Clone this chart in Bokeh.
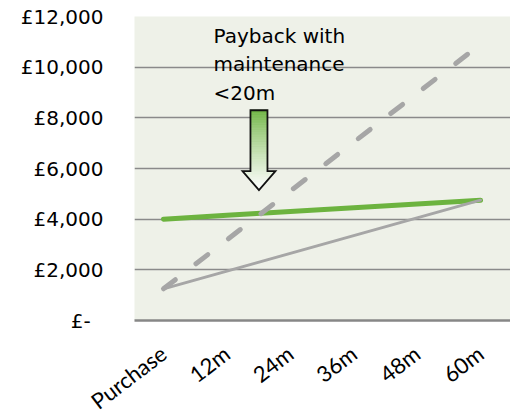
from bokeh.plotting import figure
from bokeh.models import Range1d, FixedTicker, ColumnDataSource
from bokeh.core.properties import value
from bokeh.embed import file_html
from bokeh.resources import INLINE

# ---- data ----
categories = ["Purchase", "12m", "24m", "36m", "48m", "60m"]
cost_with_maintenance = [4000, 4150, 4300, 4450, 4600, 4750]   # green
cost_baseline = [1250, 1950, 2650, 3350, 4050, 4750]           # grey solid
cost_dashed = [1250, 3180, 5110, 7040, 8970, 10900]            # grey dashed
y_ticks = [0, 2000, 4000, 6000, 8000, 10000, 12000]
y_tick_labels = ["£-\u00a0\u00a0", "£2,000", "£4,000", "£6,000", "£8,000", "£10,000", "£12,000"]
note_lines = ["Payback with", "maintenance", "<20m"]

xs = list(range(len(categories)))

p = figure(frame_width=376, frame_height=304, output_backend="svg", toolbar_location=None,
           x_range=Range1d(-0.457, 5.473), y_range=Range1d(0, 12000),
           min_border_left=134, min_border_right=0, min_border_top=16,
           min_border_bottom=90)
p.background_fill_color = "#EEF1E8"
p.border_fill_color = "white"
p.outline_line_color = None

# axes
p.xaxis.ticker = FixedTicker(ticks=xs)
p.xaxis.major_label_overrides = {i: c for i, c in zip(xs, categories)}
p.xaxis.major_label_orientation = 0.65
p.xaxis.major_label_text_font = "Lato"
p.xaxis.major_label_text_font_size = "22px"
p.xaxis.major_label_text_color = "black"
p.xaxis.major_label_standoff = 30
p.xaxis.major_tick_out = 0
p.xaxis.major_tick_in = 0
p.xaxis.axis_line_color = "#878787"
p.xaxis.axis_line_width = 2.5
p.xaxis.major_tick_line_color = None
p.xaxis.minor_tick_line_color = None

p.yaxis.ticker = FixedTicker(ticks=y_ticks)
p.yaxis.major_label_overrides = {t: l for t, l in zip(y_ticks, y_tick_labels)}
p.yaxis.major_label_text_font = "DejaVu Sans"
p.yaxis.major_label_text_font_size = "20px"
p.yaxis.major_label_text_color = "black"
p.yaxis.major_label_standoff = 31
p.yaxis.major_tick_out = 0
p.yaxis.major_tick_in = 0
p.yaxis.axis_line_color = None
p.yaxis.major_tick_line_color = None
p.yaxis.minor_tick_line_color = None

p.xgrid.grid_line_color = None
p.ygrid.grid_line_color = "#8A8A8A"
p.ygrid.grid_line_width = 1.5

# series
p.line(xs, cost_with_maintenance, line_color="#6CB33F", line_width=5, line_cap="round")
p.line(xs, cost_baseline, line_color="#A6A6A6", line_width=3, line_cap="round")
p.line(xs, cost_dashed, line_color="#A6A6A6", line_width=5, line_dash="15 26", line_cap="round")

# gradient arrow annotation
ax, a_top, a_neck, a_tip = 1.506, 8300, 5900, 5150
sw, hw = 0.134, 0.26
g0 = (108, 179, 63)


def halfw(y):
    return sw if y >= a_neck else hw * (y - a_tip) / (a_neck - a_tip)


def col(y):
    t = (a_top - y) / (a_top - a_tip)
    t = min(max(t, 0), 1) ** 0.8
    r = int(g0[0] + (255 - g0[0]) * t)
    g = int(g0[1] + (255 - g0[1]) * t)
    b = int(g0[2] + (255 - g0[2]) * t)
    return "#%02x%02x%02x" % (r, g, b)


px, py, pc = [], [], []
n1, n2 = 36, 12
shaft_edges = [a_top + (a_neck - a_top) * k / n1 for k in range(n1 + 1)]
head_edges = [a_neck + (a_tip - a_neck) * k / n2 for k in range(n2 + 1)]
for y0, y1 in zip(shaft_edges[:-1], shaft_edges[1:]):
    px.append([ax - sw, ax + sw, ax + sw, ax - sw])
    py.append([y0, y0, y1, y1])
    pc.append(col((y0 + y1) / 2))
for y0, y1 in zip(head_edges[:-1], head_edges[1:]):
    w0, w1 = halfw(y0) if y0 < a_neck else hw, halfw(y1)
    px.append([ax - w0, ax + w0, ax + w1, ax - w1])
    py.append([y0, y0, y1, y1])
    pc.append(col((y0 + y1) / 2))
p.patches(px, py, fill_color=pc, line_color=pc, line_width=0.8)
p.patch([ax - sw, ax + sw, ax + sw, ax + hw, ax, ax - hw, ax - sw, ax - sw],
        [a_top, a_top, a_neck, a_neck, a_tip, a_neck, a_neck, a_top],
        fill_color=None, line_color="#111111", line_width=1.8, line_join="miter")

# note text
note_src = ColumnDataSource(dict(x=[0.79] * 3, y=[11212, 10107, 8962], t=note_lines))
p.text(x="x", y="y", text="t", source=note_src, text_font=value("DejaVu Sans"),
       text_font_size="20px", text_color="black", text_baseline="alphabetic",
       text_align="left")

open("out.html", "w").write(file_html(p, INLINE))
